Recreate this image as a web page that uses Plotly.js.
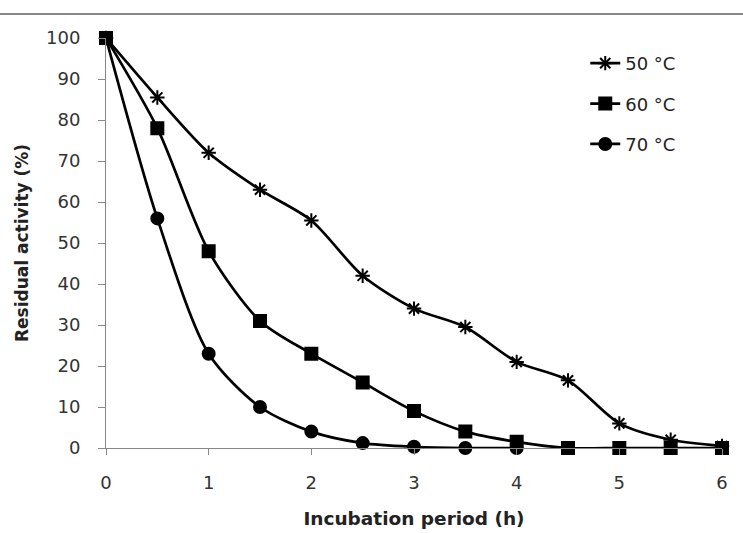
<!DOCTYPE html>
<html><head><meta charset="utf-8">
<script src="https://cdn.plot.ly/plotly-3.0.1.min.js"></script>
<style>html,body{margin:0;padding:0;background:#fff;}</style>
</head><body>
<div id="chart" style="width:743px;height:533px;"></div>
<script>
var hours = [0, 0.5, 1, 1.5, 2, 2.5, 3, 3.5, 4, 4.5, 5, 5.5, 6];
var act50 = [100, 85.5, 72, 63, 55.5, 42, 34, 29.5, 21, 16.5, 6, 2, 0.5];
var act60 = [100, 78, 48, 31, 23, 16, 9, 4, 1.5, 0, 0, 0, 0];
var act70 = [100, 56, 23, 10, 4, 1.2, 0.3, 0, 0];
var hours70 = [0, 0.5, 1, 1.5, 2, 2.5, 3, 3.5, 4];
var names = ['50 °C', '60 °C', '70 °C'];
var yTicks = [0,10,20,30,40,50,60,70,80,90,100];
var xTicks = [0,1,2,3,4,5,6];

function tr(x, y, name, sym, size, grp) {
  return {
    x: x, y: y, name: name, type: 'scatter', mode: 'lines+markers',
    line: {color: '#000', width: 2.7, shape: 'spline', smoothing: 0.8},
    marker: {symbol: sym, size: size, color: '#000', line: {color: '#000', width: 2}},
    cliponaxis: false, legendgroup: grp
  };
}
var data = [
  tr(hours, act50, names[0], 'asterisk-open', 12, 'a'),
  tr(hours, act60, names[1], 'square', 12, 'b'),
  tr(hours70, act70, names[2], 'circle', 12, 'c')
];
var layout = {
  width: 743, height: 533,
  margin: {l: 106, r: 21, t: 38, b: 85},
  paper_bgcolor: '#fff', plot_bgcolor: '#fff',
  font: {family: 'DejaVu Sans, Verdana, sans-serif', color: '#222', size: 18},
  showlegend: true,
  legend: {x: 0.778, y: 0.983, xanchor: 'left', yanchor: 'top', traceorder: 'grouped',
           tracegroupgap: 14, font: {size: 18, color: '#222'}, bgcolor: 'rgba(0,0,0,0)'},
  xaxis: {range: [0, 6], tickvals: xTicks, ticks: 'outside', ticklen: 6, tickcolor: '#888',
          showline: true, linecolor: '#888', linewidth: 1, showgrid: false, zeroline: false,
          tickfont: {size: 18, color: '#333'}, ticklabelstandoff: 12,
          title: {text: '<b>Incubation period (h)</b>', font: {size: 18.5, color: '#222'}, standoff: 20}},
  yaxis: {range: [0, 100], tickvals: yTicks, ticks: 'outside', ticklen: 7, tickcolor: '#888',
          showline: true, linecolor: '#888', linewidth: 1, showgrid: false, zeroline: false,
          tickfont: {size: 18, color: '#333'}, ticklabelstandoff: 14,
          title: {text: '<b>Residual activity (%)</b>', font: {size: 17, color: '#222'}, standoff: 13}},
  shapes: [{type: 'line', xref: 'paper', yref: 'paper', x0: -0.18, x1: 1.05, y0: 1.0585, y1: 1.0585,
            line: {color: '#888', width: 2}}]
};
Plotly.newPlot('chart', data, layout, {displayModeBar: false, staticPlot: true});
</script>
</body></html>
